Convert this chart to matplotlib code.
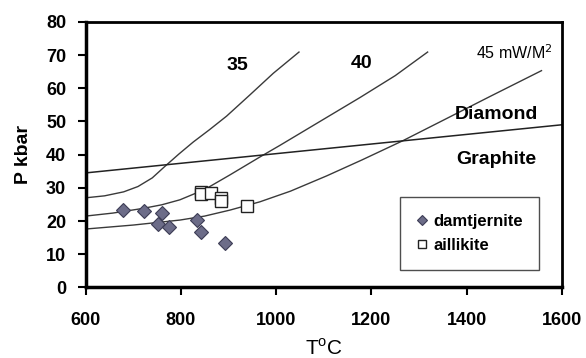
import matplotlib.pyplot as plt

plt.rcParams['font.family'] = ['Liberation Sans', 'DejaVu Sans']

# geotherms (mW/m2)
g35_t = [600, 640, 680, 710, 740, 766, 796, 826, 860, 896, 945, 994, 1048]
g35_p = [27.0, 27.6, 28.8, 30.4, 33.0, 36.4, 40.2, 43.8, 47.5, 51.6, 58.0, 64.5, 70.9]
g40_t = [600, 657, 720, 760, 798, 850, 903, 966, 1008, 1071, 1120, 1176, 1250, 1318]
g40_p = [21.5, 22.4, 23.8, 24.9, 26.4, 29.5, 33.9, 39.3, 42.8, 48.2, 52.4, 57.2, 63.8, 70.9]
g45_t = [600, 700, 798, 850, 903, 966, 1030, 1106, 1180, 1266, 1354, 1450, 1557]
g45_p = [17.6, 18.8, 20.3, 21.5, 23.3, 25.8, 29.0, 33.6, 38.4, 44.2, 50.6, 57.6, 65.3]
# diamond-graphite boundary
dg_t = [600, 1600]
dg_p = [34.5, 49.0]

damt_t = [679, 723, 760, 752, 775, 833, 842, 892]
damt_p = [23.3, 23.0, 22.3, 19.1, 18.1, 20.3, 16.6, 13.3]
aill_t = [843, 843, 863, 885, 885, 939]
aill_p = [28.9, 28.1, 28.4, 26.9, 26.0, 24.5]

fig = plt.figure(figsize=(5.86, 3.58), dpi=100)
ax = fig.add_axes([0.146, 0.197, 0.813, 0.742])

lc = '#3a3a3a'
ax.plot(g35_t, g35_p, color=lc, lw=1.0)
ax.plot(g40_t, g40_p, color=lc, lw=1.0)
ax.plot(g45_t, g45_p, color=lc, lw=1.0)
ax.plot(dg_t, dg_p, color='#222222', lw=1.1)

ax.plot(damt_t, damt_p, 'D', ms=7.5, mfc='#6c6c88', mec='#3c3c55', mew=0.8,
        ls='none', label='damtjernite')
ax.plot(aill_t, aill_p, 's', ms=9, mfc='white', mec='#222222', mew=1.0,
        ls='none', label='aillikite')

ax.text(918, 67, '35', fontsize=14, fontweight='bold', ha='center', va='center')
ax.text(1180, 67.6, '40', fontsize=14, fontweight='bold', ha='center', va='center')
ax.text(1580, 70.6, '45 mW/M$^2$', fontsize=11.5, ha='right', va='center')
ax.text(1463, 52, 'Diamond', fontsize=14, fontweight='bold', ha='center', va='center')
ax.text(1463, 38.4, 'Graphite', fontsize=14, fontweight='bold', ha='center', va='center')

ax.set_xlim(600, 1600)
ax.set_ylim(0, 80)
ax.set_xticks(range(600, 1601, 200))
ax.set_yticks(range(0, 81, 10))
ax.tick_params(axis='both', direction='out', length=6, width=1.5, labelsize=13)
ax.tick_params(axis='x', pad=12)
ax.tick_params(axis='y', pad=8)
for lab in ax.get_xticklabels() + ax.get_yticklabels():
    lab.set_fontweight('bold')
for s in ax.spines.values():
    s.set_linewidth(2)
ax.spines['left'].set_linewidth(2.5)
ax.spines['bottom'].set_linewidth(2.5)

ax.set_xlabel('T$^{\\mathregular{o}}$C', fontsize=15, labelpad=6)
ax.set_ylabel('P kbar', fontsize=14, fontweight='bold', labelpad=10)

leg = ax.legend(loc='lower right', bbox_to_anchor=(0.97, 0.035), fancybox=False,
                edgecolor='#222222', handlelength=0.7, handletextpad=0.3,
                borderpad=1.0, labelspacing=0.55, prop={'weight': 'bold', 'size': 12},
                markerscale=0.7)
leg.get_frame().set_linewidth(1.0)

fig.savefig('out.png', dpi=100)
